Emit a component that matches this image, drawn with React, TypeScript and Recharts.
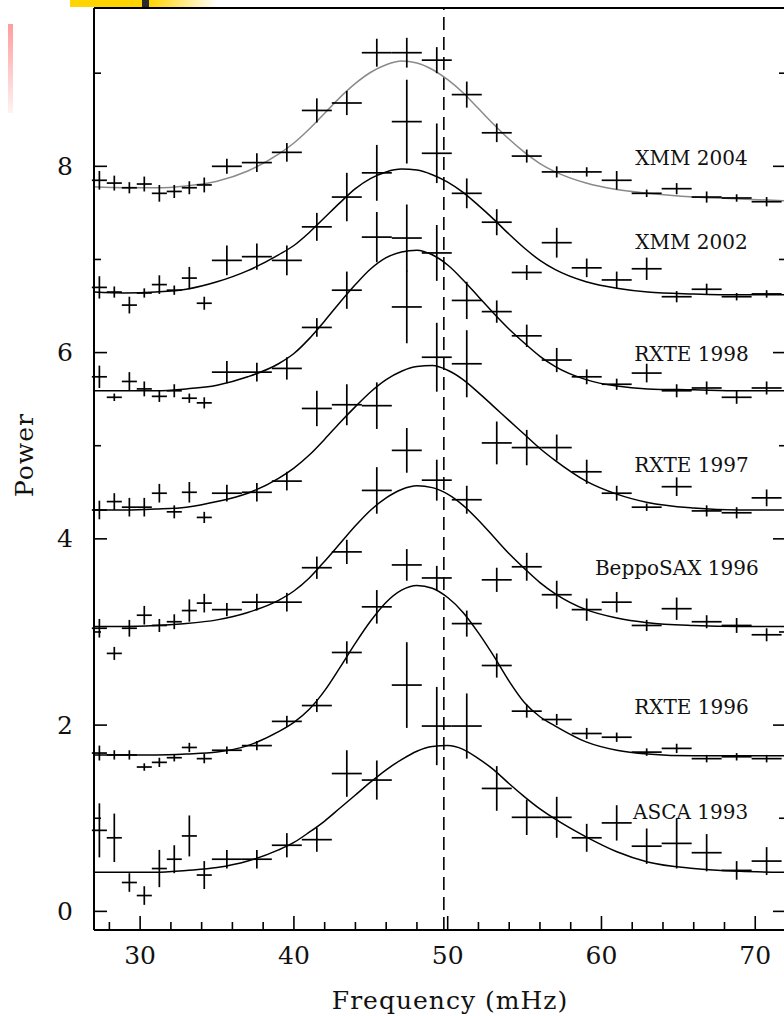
import React from "react";
import { ComposedChart, XAxis, YAxis, Line, Scatter, ErrorBar, ReferenceLine, ReferenceDot } from "recharts";

// frequency bins (mHz) shared by every data set, and half-widths of the bins
const binFreq = [27.35, 28.32, 29.3, 30.27, 31.25, 32.22, 33.2, 34.17, 35.64, 37.59, 39.54, 41.49, 43.44, 45.39, 47.34, 49.29, 51.24, 53.19, 55.14, 57.09, 59.04, 60.99, 62.94, 64.89, 66.84, 68.79, 70.74];
const binHalf = [0.49, 0.49, 0.49, 0.49, 0.49, 0.49, 0.49, 0.49, 0.975, 0.975, 0.975, 0.975, 0.975, 0.975, 0.975, 0.975, 0.975, 0.975, 0.975, 0.975, 0.975, 0.975, 0.975, 0.975, 0.975, 0.975, 0.975];

// frequencies at which the fitted curves were read
const fitFreq = [27, 29, 31, 33, 35, 37, 39, 40, 41, 42, 43, 44, 45, 46, 47, 48, 49, 50, 51, 52, 53, 54, 55, 56, 57, 59, 61, 63, 66, 69, 72];

const xmm2004Power = [7.85, 7.82, 7.77, 7.81, 7.71, 7.73, 7.77, 7.8, 8.0, 8.04, 8.15, 8.6, 8.68, 9.22, 9.22, 9.14, 8.77, 8.36, 8.11, 7.94, 7.94, 7.85, 7.71, 7.76, 7.67, 7.66, 7.62];
const xmm2004Err = [0.1, 0.08, 0.06, 0.08, 0.09, 0.07, 0.07, 0.08, 0.08, 0.1, 0.1, 0.13, 0.13, 0.15, 0.16, 0.14, 0.14, 0.1, 0.07, 0.06, 0.05, 0.1, 0.04, 0.06, 0.06, 0.04, 0.05];
const xmm2004Fit = [7.78, 7.77, 7.77, 7.79, 7.84, 7.95, 8.13, 8.25, 8.4, 8.57, 8.74, 8.89, 9.01, 9.09, 9.13, 9.11, 9.04, 8.93, 8.79, 8.62, 8.45, 8.29, 8.15, 8.03, 7.94, 7.82, 7.75, 7.71, 7.67, 7.65, 7.63];

const xmm2002Power = [6.7, 6.65, 6.51, 6.64, 6.73, 6.67, 6.8, 6.53, 6.99, 7.03, 6.99, 7.35, 7.67, 7.93, 8.48, 8.14, 7.71, 7.4, 6.86, 7.18, 6.91, 6.78, 6.9, 6.6, 6.68, 6.6, 6.63];
const xmm2002Err = [0.12, 0.06, 0.09, 0.05, 0.1, 0.05, 0.12, 0.07, 0.16, 0.14, 0.16, 0.15, 0.26, 0.3, 0.45, 0.32, 0.16, 0.14, 0.08, 0.16, 0.1, 0.09, 0.12, 0.06, 0.06, 0.04, 0.04];
const xmm2002Fit = [6.65, 6.64, 6.65, 6.68, 6.76, 6.88, 7.05, 7.15, 7.29, 7.45, 7.61, 7.76, 7.87, 7.94, 7.97, 7.96, 7.91, 7.83, 7.72, 7.58, 7.43, 7.27, 7.12, 6.99, 6.89, 6.76, 6.69, 6.65, 6.63, 6.62, 6.62];

const rxte1998Power = [5.74, 5.52, 5.69, 5.61, 5.53, 5.59, 5.51, 5.46, 5.79, 5.79, 5.83, 6.27, 6.67, 7.24, 7.23, 7.07, 6.56, 6.44, 6.18, 5.92, 5.74, 5.66, 5.78, 5.59, 5.62, 5.52, 5.62];
const rxte1998Err = [0.12, 0.04, 0.1, 0.08, 0.06, 0.07, 0.05, 0.06, 0.12, 0.1, 0.12, 0.1, 0.2, 0.27, 0.36, 0.3, 0.2, 0.12, 0.12, 0.13, 0.08, 0.06, 0.1, 0.07, 0.07, 0.07, 0.07];
const rxte1998Fit = [5.59, 5.59, 5.59, 5.61, 5.65, 5.74, 5.88, 5.99, 6.15, 6.34, 6.54, 6.73, 6.9, 7.02, 7.08, 7.1, 7.05, 6.94, 6.78, 6.6, 6.42, 6.25, 6.1, 5.96, 5.85, 5.71, 5.64, 5.61, 5.6, 5.59, 5.59];

const rxte1997Power = [4.31, 4.4, 4.34, 4.34, 4.49, 4.29, 4.5, 4.23, 4.49, 4.5, 4.62, 5.4, 5.44, 5.43, 6.49, 5.95, 5.88, 5.03, 4.98, 4.98, 4.72, 4.49, 4.34, 4.56, 4.3, 4.28, 4.44];
const rxte1997Err = [0.1, 0.09, 0.1, 0.1, 0.1, 0.07, 0.11, 0.06, 0.09, 0.1, 0.1, 0.19, 0.22, 0.25, 0.39, 0.37, 0.36, 0.23, 0.19, 0.14, 0.13, 0.08, 0.04, 0.1, 0.06, 0.06, 0.09];
const rxte1997Fit = [4.31, 4.31, 4.32, 4.34, 4.4, 4.49, 4.65, 4.76, 4.9, 5.07, 5.25, 5.42, 5.58, 5.71, 5.8, 5.85, 5.86, 5.81, 5.71, 5.57, 5.42, 5.27, 5.12, 4.97, 4.84, 4.62, 4.48, 4.39, 4.33, 4.31, 4.31];

const sax1996Power = [3.04, 2.77, 3.04, 3.18, 3.07, 3.11, 3.23, 3.31, 3.24, 3.32, 3.32, 3.69, 3.86, 4.52, 4.95, 4.63, 4.42, 3.56, 3.7, 3.4, 3.24, 3.32, 3.07, 3.25, 3.11, 3.07, 2.97];
const sax1996Err = [0.1, 0.07, 0.09, 0.1, 0.07, 0.08, 0.12, 0.1, 0.07, 0.09, 0.1, 0.12, 0.13, 0.25, 0.24, 0.22, 0.15, 0.13, 0.15, 0.15, 0.12, 0.11, 0.06, 0.12, 0.07, 0.08, 0.07];
const sax1996Fit = [3.06, 3.06, 3.07, 3.09, 3.13, 3.21, 3.34, 3.44, 3.58, 3.76, 3.95, 4.14, 4.31, 4.44, 4.53, 4.57, 4.55, 4.48, 4.36, 4.2, 4.02, 3.84, 3.68, 3.53, 3.41, 3.24, 3.15, 3.1, 3.07, 3.06, 3.06];

const rxte1996Power = [1.7, 1.68, 1.68, 1.55, 1.6, 1.65, 1.76, 1.64, 1.73, 1.78, 2.04, 2.21, 2.78, 3.27, 3.72, 3.58, 3.09, 2.64, 2.15, 2.06, 1.91, 1.87, 1.71, 1.75, 1.64, 1.66, 1.64];
const rxte1996Err = [0.08, 0.05, 0.05, 0.04, 0.05, 0.04, 0.05, 0.05, 0.04, 0.05, 0.06, 0.07, 0.12, 0.18, 0.17, 0.13, 0.14, 0.13, 0.07, 0.06, 0.06, 0.05, 0.04, 0.05, 0.04, 0.04, 0.04];
const rxte1996Fit = [1.68, 1.68, 1.68, 1.69, 1.71, 1.78, 1.93, 2.03, 2.17, 2.37, 2.62, 2.88, 3.12, 3.32, 3.45, 3.5, 3.47, 3.37, 3.21, 2.99, 2.74, 2.47, 2.24, 2.09, 1.99, 1.82, 1.73, 1.69, 1.67, 1.67, 1.67];

const asca1993Power = [0.87, 0.79, 0.31, 0.17, 0.46, 0.56, 0.81, 0.39, 0.56, 0.56, 0.71, 0.77, 1.48, 1.41, 2.43, 1.99, 1.99, 1.32, 1.01, 1.01, 0.79, 0.95, 0.7, 0.73, 0.63, 0.44, 0.54];
const asca1993Err = [0.29, 0.26, 0.1, 0.1, 0.2, 0.15, 0.22, 0.15, 0.1, 0.1, 0.13, 0.13, 0.25, 0.21, 0.46, 0.42, 0.35, 0.24, 0.19, 0.22, 0.15, 0.19, 0.19, 0.27, 0.2, 0.1, 0.15];
const asca1993Fit = [0.42, 0.42, 0.42, 0.44, 0.47, 0.54, 0.66, 0.74, 0.85, 0.97, 1.11, 1.25, 1.39, 1.52, 1.63, 1.72, 1.77, 1.78, 1.74, 1.64, 1.52, 1.37, 1.23, 1.1, 0.99, 0.8, 0.64, 0.53, 0.46, 0.43, 0.42];

const seriesNames = ["XMM 2004", "XMM 2002", "RXTE 1998", "RXTE 1997", "BeppoSAX 1996", "RXTE 1996", "ASCA 1993"];
const qpoFreq = 49.75;
const xTicks = [28, 30, 32, 34, 36, 38, 40, 42, 44, 46, 48, 50, 52, 54, 56, 58, 60, 62, 64, 66, 68, 70, 72];
const yTicks = [0, 1, 2, 3, 4, 5, 6, 7, 8, 9];

// where each name sits, in data units (frequency, power)
const labelSpots: [number, number][] = [
  [65.85, 8.09], [65.85, 7.19], [65.85, 5.99], [65.85, 4.79], [64.9, 3.69], [65.85, 2.19], [65.8, 1.07],
];

const sets = [
  { power: xmm2004Power, err: xmm2004Err, fit: xmm2004Fit, color: "#8a8a8a" },
  { power: xmm2002Power, err: xmm2002Err, fit: xmm2002Fit, color: "#000" },
  { power: rxte1998Power, err: rxte1998Err, fit: rxte1998Fit, color: "#000" },
  { power: rxte1997Power, err: rxte1997Err, fit: rxte1997Fit, color: "#000" },
  { power: sax1996Power, err: sax1996Err, fit: sax1996Fit, color: "#000" },
  { power: rxte1996Power, err: rxte1996Err, fit: rxte1996Fit, color: "#000" },
  { power: asca1993Power, err: asca1993Err, fit: asca1993Fit, color: "#000" },
].map((s, k) => ({
  name: seriesNames[k],
  color: s.color,
  points: binFreq.map((f, i) => ({ f, v: s.power[i], ex: binHalf[i], ey: s.err[i] })),
  curve: fitFreq.map((f, i) => ({ f, v: s.fit[i] })),
}));

const serif = "'DejaVu Serif', 'Liberation Serif', serif";
const tickFont = { fontFamily: serif, fontSize: 25, fill: "#111" };

const BottomTick = ({ x, y, payload }: any) => {
  const major = payload.value % 10 === 0;
  return (
    <g>
      <line x1={x} x2={x} y1={y} y2={y - (major ? 14 : 8)} stroke="#000" strokeWidth={1.6} />
      {major && payload.value < 72 && (
        <text x={x} y={y + 25} textAnchor="middle" dominantBaseline="central" {...tickFont}>{payload.value}</text>
      )}
    </g>
  );
};

const TopTick = ({ x, y, payload }: any) => {
  const major = payload.value % 10 === 0;
  return <line x1={x} x2={x} y1={y} y2={y + (major ? 14 : 8)} stroke="#000" strokeWidth={1.6} />;
};

const LeftTick = ({ x, y, payload }: any) => {
  const major = payload.value % 2 === 0;
  return (
    <g>
      <line x1={x} x2={x + (major ? 13 : 7)} y1={y} y2={y} stroke="#000" strokeWidth={1.6} />
      {major && (
        <text x={x - 21} y={y} textAnchor="end" dominantBaseline="central" {...tickFont}>{payload.value}</text>
      )}
    </g>
  );
};

const RightTick = ({ x, y, payload }: any) => {
  const major = payload.value % 2 === 0;
  return <line x1={x} x2={x - (major ? 13 : 7)} y1={y} y2={y} stroke="#000" strokeWidth={1.6} />;
};

const Nothing = () => <g />;

export default function App() {
  return (
    <div style={{ position: "relative", width: 784, height: 1016, overflow: "hidden", background: "#fff" }}>
      <style>{"body{margin:0;overflow:hidden}"}</style>
      <ComposedChart width={800} height={1016} margin={{ top: 0, right: 0, bottom: 0, left: 0 }}>
        <XAxis
          dataKey="f" type="number" domain={[27, 72]} allowDataOverflow ticks={xTicks} interval={0}
          height={86} tickSize={0} tickMargin={0} tickLine={false}
          axisLine={{ stroke: "#000", strokeWidth: 2 }} tick={BottomTick}
          label={(p: any) => (
            <text x={p.viewBox.x + 356} y={p.viewBox.y + 70} textAnchor="middle" dominantBaseline="central"
              fontFamily={serif} fontSize={25} letterSpacing={1} fill="#111">Frequency (mHz)</text>
          )}
        />
        <XAxis
          xAxisId="top" orientation="top" type="number" domain={[27, 72]} allowDataOverflow ticks={xTicks} interval={0}
          height={8} tickSize={0} tickMargin={0} tickLine={false}
          axisLine={{ stroke: "#000", strokeWidth: 2 }} tick={TopTick}
        />
        <YAxis
          type="number" domain={[-0.2, 9.7]} allowDataOverflow ticks={yTicks} interval={0}
          width={94} tickSize={0} tickMargin={0} tickLine={false}
          axisLine={{ stroke: "#000", strokeWidth: 2 }} tick={LeftTick}
          label={(p: any) => (
            <text x={p.viewBox.x + 24} y={p.viewBox.y + 447} textAnchor="middle" dominantBaseline="central"
              transform={`rotate(-90 ${p.viewBox.x + 24} ${p.viewBox.y + 447})`}
              fontFamily={serif} fontSize={25} letterSpacing={1} fill="#111">Power</text>
          )}
        />
        <YAxis
          yAxisId="right" orientation="right" type="number" domain={[-0.2, 9.7]} allowDataOverflow ticks={yTicks} interval={0}
          width={14} tickSize={0} tickMargin={0} tickLine={false}
          axisLine={{ stroke: "#000", strokeWidth: 2 }} tick={RightTick}
        />
        <ReferenceLine x={qpoFreq} stroke="#000" strokeWidth={1.6} strokeDasharray="13 7" />
        {sets.map((s) => (
          <Line key={`fit-${s.name}`} data={s.curve} dataKey="v" type="monotone" dot={false} activeDot={false}
            stroke={s.color} strokeWidth={1.5} isAnimationActive={false} legendType="none" />
        ))}
        {sets.map((s) => (
          <Scatter key={`pts-${s.name}`} data={s.points} dataKey="v" shape={Nothing} isAnimationActive={false} legendType="none">
            <ErrorBar dataKey="ey" direction="y" width={0} stroke="#000" strokeWidth={1.7} isAnimationActive={false} />
            <ErrorBar dataKey="ex" direction="x" width={0} stroke="#000" strokeWidth={1.7} isAnimationActive={false} />
          </Scatter>
        ))}
        {sets.map((s, k) => (
          <ReferenceDot key={`lab-${s.name}`} x={labelSpots[k][0]} y={labelSpots[k][1]} r={0} fill="none" stroke="none"
            label={(p: any) => (
              <text x={p.viewBox.x} y={p.viewBox.y} textAnchor="middle" dominantBaseline="central"
                fontFamily={serif} fontSize={20} fill="#111">{s.name}</text>
            )}
          />
        ))}
      </ComposedChart>
      <div style={{ position: "absolute", left: 70, top: 0, width: 147, height: 7,
        background: "linear-gradient(to right, #ffd400 0px, #ffd400 72px, #2a2a2a 72px, #2a2a2a 79px, #ffd400 79px, #ffffff 147px)" }} />
      <div style={{ position: "absolute", left: 8, top: 24, width: 5, height: 89,
        background: "linear-gradient(to bottom, #ff9c9c, #fff2f2)" }} />
    </div>
  );
}
